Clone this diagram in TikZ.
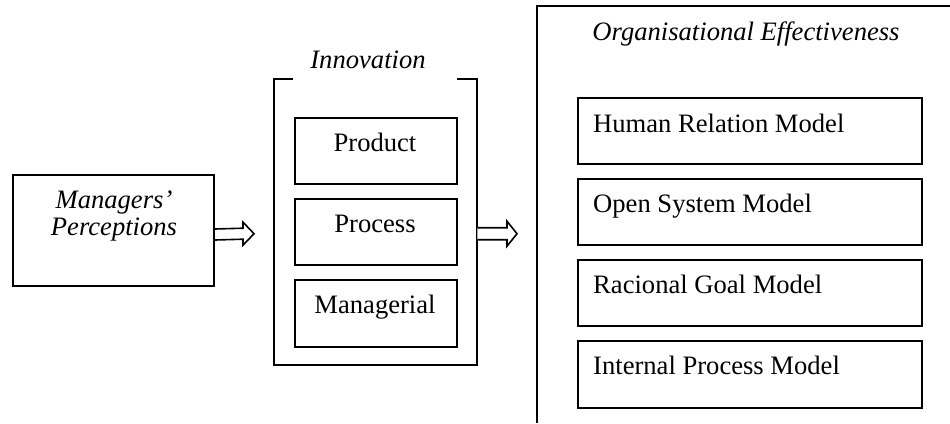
\documentclass[tikz,border=0pt]{standalone}
\usepackage{fontspec}
\setmainfont{Liberation Serif}
\usetikzlibrary{calc}
\begin{document}
\begin{tikzpicture}[x=1pt,y=-1pt,
  box/.style={draw,line width=2pt,inner sep=0pt,minimum width=#1,anchor=north west},
  txt/.style={inner sep=0pt,font=\fontsize{26.6}{27}\selectfont},
  itxt/.style={txt,font=\fontsize{26.6}{27}\selectfont\itshape},
  frame/.style={line width=2pt},
  harrow/.style={draw,line width=1.6pt,fill=white,line join=miter}]
\useasboundingbox (0,0) rectangle (950,423);
% Managers' Perceptions
\node[box=201pt,minimum height=111pt] (mp) at (12,174) {};
\node[itxt,anchor=base] (mp1) at (114,208) {Managers’};
\node[itxt,anchor=base] (mp2) at (114,235) {Perceptions};
% Innovation bracket
\node[inner sep=0pt,minimum width=203pt,minimum height=286pt,anchor=north west] (inv) at (274,79) {};
\draw[frame] ($(inv.north west)+(19,0)$) -- (inv.north west) -- (inv.south west) -- (inv.south east) -- (inv.north east) -- ($(inv.north east)+(-20,0)$);
\node[itxt,anchor=base] (invt) at (368,68) {Innovation};
\node[box=162pt,minimum height=66pt] (prod) at (294,117) {};
\node[box=162pt,minimum height=66pt] (proc) at (294,198) {};
\node[box=162pt,minimum height=67pt] (mang) at (294,279) {};
\node[txt,anchor=base] (prodt) at (375,151) {Product};
\node[txt,anchor=base] (proct) at (375,232) {Process};
\node[txt,anchor=base] (mangt) at (375,313) {Managerial};
% Organisational Effectiveness frame
\node[inner sep=0pt,minimum width=413pt,minimum height=417pt,anchor=north west] (oe) at (537,6) {};
\draw[frame] (oe.north east) -- (oe.north west) -- (oe.south west);
\node[itxt,anchor=base] (oet) at (746,40) {Organisational Effectiveness};
\node[box=344pt,minimum height=66pt] (hr) at (577,97) {};
\node[box=344pt,minimum height=66pt] (os) at (577,178) {};
\node[box=344pt,minimum height=66pt] (rg) at (577,259) {};
\node[box=344pt,minimum height=67pt] (ip) at (577,340) {};
\node[txt,anchor=base west] (hrt) at (593,132) {Human Relation Model};
\node[txt,anchor=base west] (ost) at (593,212) {Open System Model};
\node[txt,anchor=base west] (rgt) at (593,293) {Racional Goal Model};
\node[txt,anchor=base west] (ipt) at (593,374) {Internal Process Model};
% Arrows
\coordinate (a1) at ($(mp.east)+(0,4)$);
\coordinate (a1t) at ($(inv.west)+(-20,11.5)$);
\draw[harrow] ($(a1)+(0,-5.5)$) -- ($(a1t)+(-11,-5.5)$) -- ($(a1t)+(-11,-11.5)$) -- (a1t)
  -- ($(a1t)+(-11,11.5)$) -- ($(a1t)+(-11,5.5)$) -- ($(a1)+(0,5.5)$);
\coordinate (a2) at ($(inv.east)+(0,11.5)$);
\coordinate (a2t) at ($(oe.west)+(-20,19)$);
\draw[harrow] ($(a2)+(0,-6)$) -- ($(a2t)+(-10,-6)$) -- ($(a2t)+(-10,-12.5)$) -- (a2t)
  -- ($(a2t)+(-10,12.5)$) -- ($(a2t)+(-10,6)$) -- ($(a2)+(0,6)$);
\end{tikzpicture}
\end{document}
